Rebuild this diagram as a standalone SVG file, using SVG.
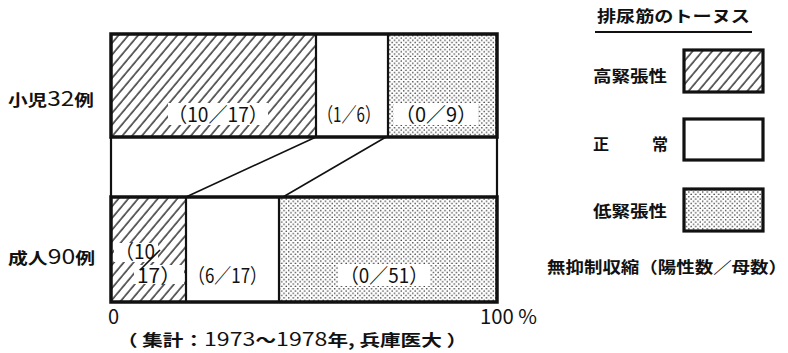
<svg xmlns="http://www.w3.org/2000/svg" width="788" height="353" viewBox="0 0 788 353">
<style>
text{font-family:"Noto Sans CJK JP","Noto Sans",sans-serif;fill:#111}
.lab{font-size:16px;font-weight:700}
.num{font-size:20px}
.bar{fill:none;stroke:#111;stroke-width:3.5}
.div{stroke:#111;stroke-width:2.2;fill:none}
.conn{stroke:#111;stroke-width:1.6;fill:none}
.box{stroke:#111;stroke-width:3.2}
.bg{fill:#fff}
</style>
<defs>
<pattern id="hatch" width="7.5" height="7.5" patternUnits="userSpaceOnUse" patternTransform="rotate(40)">
<rect width="7.5" height="7.5" fill="#fff"/>
<line x1="1" y1="0" x2="1" y2="7.5" stroke="#000" stroke-width="1.2"/>
</pattern>
<pattern id="dots" width="4.6" height="4.6" patternUnits="userSpaceOnUse">
<rect width="4.6" height="4.6" fill="#fff"/>
<circle cx="1.15" cy="1.15" r="0.8" fill="#333"/>
<circle cx="3.45" cy="3.45" r="0.8" fill="#333"/>
</pattern>
</defs>

<!-- row labels -->
<g id="row-child"><text class="lab" x="8" y="106" textLength="86" lengthAdjust="spacingAndGlyphs">小児<tspan font-size="20" font-weight="400">32</tspan>例</text></g>
<g id="row-adult"><text class="lab" x="8" y="264" textLength="87" lengthAdjust="spacingAndGlyphs">成人<tspan font-size="20" font-weight="400">90</tspan>例</text></g>

<!-- child bar -->
<g id="child-high">
<rect x="111" y="34" width="205" height="103" fill="url(#hatch)"/>
<rect class="bg" x="168" y="103" width="100" height="22"/>
<text class="num" x="168" y="122" textLength="100" lengthAdjust="spacingAndGlyphs">（10／17）</text>
</g>
<g id="child-normal">
<rect x="316" y="34" width="72" height="103" fill="#fff"/>
<text class="num" x="318" y="122" textLength="62" lengthAdjust="spacingAndGlyphs">（1／6）</text>
</g>
<g id="child-low">
<rect x="388" y="34" width="109" height="103" fill="url(#dots)"/>
<rect class="bg" x="394" y="103" width="84" height="22"/>
<text class="num" x="395" y="122" textLength="82" lengthAdjust="spacingAndGlyphs">（0／9）</text>
</g>

<!-- adult bar -->
<g id="adult-high">
<rect x="111" y="197" width="75" height="105" fill="url(#hatch)"/>
<rect class="bg" x="114" y="243" width="44" height="19"/>
<rect class="bg" x="134" y="265" width="50" height="19"/>
<text class="num" x="115" y="259" font-size="18" textLength="40" lengthAdjust="spacingAndGlyphs">（10</text>
<text class="num" x="137" y="283" font-size="19" textLength="44" lengthAdjust="spacingAndGlyphs">17）</text>
<line x1="140" y1="270" x2="160" y2="250" class="conn" stroke-width="1.4"/>
</g>
<g id="adult-normal">
<rect x="186" y="197" width="93" height="105" fill="#fff"/>
<text class="num" x="188" y="283" textLength="79" lengthAdjust="spacingAndGlyphs">（6／17）</text>
</g>
<g id="adult-low">
<rect x="279" y="197" width="218" height="105" fill="url(#dots)"/>
<rect class="bg" x="338" y="264" width="92" height="22"/>
<text class="num" x="340" y="283" textLength="88" lengthAdjust="spacingAndGlyphs">（0／51）</text>
</g>

<!-- frames and connectors -->
<g id="connectors">
<rect class="bar" x="111" y="34" width="386" height="103"/>
<rect class="bar" x="111" y="197" width="386" height="105"/>
<line class="div" x1="316" y1="34" x2="316" y2="137"/>
<line class="div" x1="388" y1="34" x2="388" y2="137"/>
<line class="div" x1="186" y1="197" x2="186" y2="302"/>
<line class="div" x1="279" y1="197" x2="279" y2="302"/>
<line class="div" x1="111" y1="137" x2="111" y2="197"/>
<line class="div" x1="497" y1="137" x2="497" y2="197"/>
<line class="conn" x1="316" y1="137" x2="186" y2="197"/>
<line class="conn" x1="386" y1="137" x2="283" y2="197"/>
</g>

<!-- axis -->
<g id="axis">
<text class="num" x="108" y="324" font-size="19">0</text>
<text class="num" x="480" y="324" font-size="19" textLength="57" lengthAdjust="spacingAndGlyphs">100 %</text>
<text class="lab" x="117" y="346" textLength="350" lengthAdjust="spacingAndGlyphs">（ 集計：<tspan font-weight="400" font-size="18">1973</tspan>～<tspan font-weight="400" font-size="18">1978</tspan>年, 兵庫医大 ）</text>
</g>

<!-- legend -->
<g id="legend-title">
<text class="lab" x="597" y="22" textLength="153" lengthAdjust="spacingAndGlyphs">排尿筋のトーヌス</text>
<line x1="595" y1="32" x2="752" y2="32" stroke="#111" stroke-width="1.8"/>
</g>
<g id="legend-high">
<text class="lab" x="593" y="82" textLength="74" lengthAdjust="spacingAndGlyphs">高緊張性</text>
<rect class="box" x="684" y="50" width="79" height="42" fill="url(#hatch)"/>
</g>
<g id="legend-normal">
<text class="lab" x="593" y="150">正</text>
<text class="lab" x="652" y="150">常</text>
<rect class="box" x="684" y="119" width="79" height="41" fill="#fff"/>
</g>
<g id="legend-low">
<text class="lab" x="593" y="217" textLength="74" lengthAdjust="spacingAndGlyphs">低緊張性</text>
<rect class="box" x="684" y="189" width="79" height="42" fill="url(#dots)"/>
</g>
<g id="legend-note">
<text class="lab" x="547" y="273" textLength="240" lengthAdjust="spacingAndGlyphs">無抑制収縮（陽性数／母数）</text>
</g>
</svg>
